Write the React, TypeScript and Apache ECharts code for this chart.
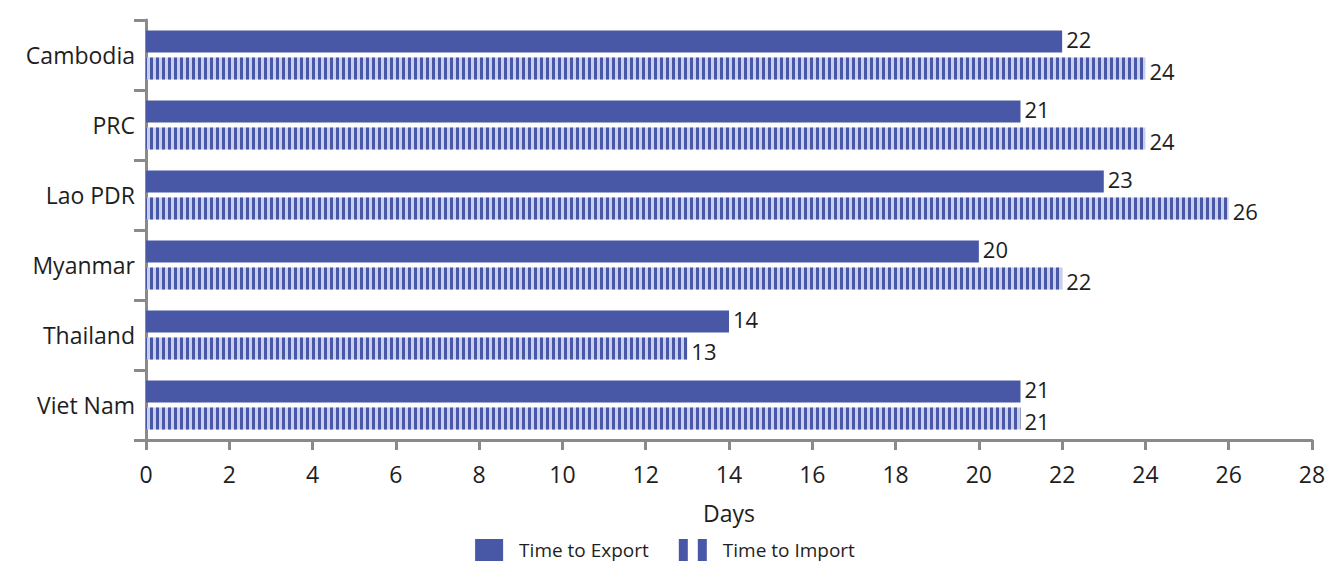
import React, { useEffect, useRef } from "react";
import * as echarts from "echarts";

const categories = ["Cambodia", "PRC", "Lao PDR", "Myanmar", "Thailand", "Viet Nam"];
const exportDays = [22, 21, 23, 20, 14, 21];
const importDays = [24, 24, 26, 22, 13, 21];
const xTicks = { min: 0, max: 28, interval: 2 };

const DARK = "#4858a6";
const LIGHT = "#c9cfea";
const AXIS = "#8a8a8a";
const TXT = "#1e1e1e";
const FONT = "'Open Sans', 'Noto Sans', sans-serif";
const FW = 400;

export default function App() {
  const ref = useRef<HTMLDivElement>(null);
  useEffect(() => {
    document.body.style.margin = "0";
    const chart = echarts.init(ref.current!, null, { renderer: "svg" });
    const lbl = {
      show: true,
      position: "right",
      distance: 4,
      fontSize: 22,
      lineHeight: 20,
      color: TXT,
      fontFamily: FONT,
      fontWeight: FW,
    };
    chart.setOption({
      animation: false,
      textStyle: { fontFamily: FONT },
      grid: { left: 146, right: 18, top: 20, bottom: 122 },
      legend: {
        bottom: 1,
        left: "center",
        padding: 0,
        itemWidth: 28,
        itemHeight: 22,
        itemGap: 30,
        textStyle: { fontSize: 19, color: TXT, fontFamily: FONT, fontWeight: FW, padding: [0, 0, 0, 11] },
        data: [
          { name: "Time to Export", icon: "rect", itemStyle: { color: DARK } },
          {
            name: "Time to Import",
            icon: "path://M0,0h9v22h-9z M19,0h9v22h-9z",
            itemStyle: { color: DARK, decal: "none" },
          },
        ],
      },
      xAxis: {
        type: "value",
        min: xTicks.min,
        max: xTicks.max,
        interval: xTicks.interval,
        name: "Days",
        nameLocation: "middle",
        nameGap: 61,
        nameTextStyle: { fontSize: 23, color: TXT, fontFamily: FONT, fontWeight: FW },
        axisLine: { show: true, lineStyle: { color: AXIS, width: 3 } },
        axisTick: { show: true, length: 10, lineStyle: { color: AXIS, width: 3 } },
        axisLabel: { fontSize: 23, color: TXT, margin: 22, fontFamily: FONT, fontWeight: FW },
        splitLine: { show: false },
      },
      yAxis: {
        type: "category",
        data: categories,
        inverse: true,
        axisLine: { show: true, lineStyle: { color: AXIS, width: 3 } },
        axisTick: { show: true, length: 12, lineStyle: { color: AXIS, width: 3 } },
        axisLabel: { fontSize: 23, color: TXT, margin: 11, fontFamily: FONT, fontWeight: FW },
      },
      series: [
        {
          name: "Time to Export",
          type: "bar",
          data: exportDays,
          barWidth: 22,
          barGap: "23%",
          itemStyle: { color: DARK },
          label: { ...lbl, offset: [0, -2] },
        },
        {
          name: "Time to Import",
          type: "bar",
          data: importDays,
          barWidth: 22,
          itemStyle: {
            color: LIGHT,
            decal: {
              symbol: "rect",
              symbolSize: 1,
              color: DARK,
              dashArrayX: [3, 2.5],
              dashArrayY: [4, 0],
              rotation: 0,
            },
          },
          label: { ...lbl, offset: [0, 2] },
        },
      ],
    });
    return () => chart.dispose();
  }, []);
  return <div ref={ref} style={{ width: 1330, height: 562 }} />;
}
